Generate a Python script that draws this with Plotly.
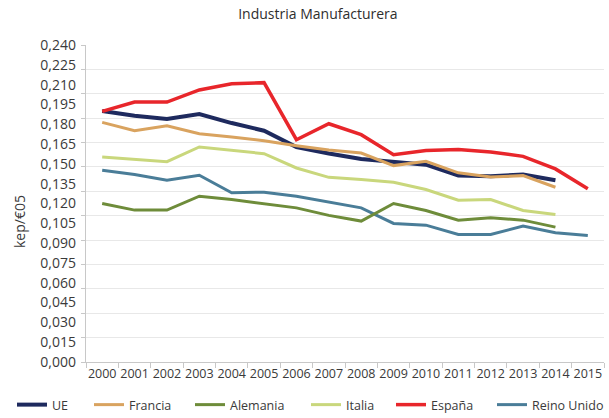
import plotly.graph_objects as go

years = [str(y) for y in range(2000, 2016)]

ue = [0.190, 0.1864, 0.1839, 0.1877, 0.1809, 0.1751, 0.1628, 0.1578, 0.1537, 0.1519,
      0.1494, 0.1411, 0.1406, 0.1419, 0.1376]
francia = [0.1814, 0.1751, 0.1789, 0.1728, 0.1703, 0.1675, 0.1638, 0.1605, 0.1582, 0.1487,
           0.1519, 0.1432, 0.1401, 0.1411, 0.1323]
alemania = [0.1200, 0.1150, 0.1150, 0.1255, 0.1230, 0.1200, 0.1167, 0.1110, 0.1067, 0.1200,
            0.1147, 0.1074, 0.1092, 0.1074, 0.1021]
italia = [0.1552, 0.1532, 0.1517, 0.1628, 0.1602, 0.1577, 0.1469, 0.1398, 0.1381, 0.1361,
          0.1306, 0.1225, 0.1230, 0.1147, 0.1117]
espana = [0.1897, 0.1968, 0.1968, 0.2060, 0.2106, 0.2115, 0.1683, 0.1804, 0.1721, 0.1570,
          0.1602, 0.1608, 0.1590, 0.1557, 0.1462, 0.1311]
reino_unido = [0.1451, 0.1419, 0.1376, 0.1414, 0.1281, 0.1286, 0.1255, 0.1212, 0.1167, 0.1049,
               0.1036, 0.0966, 0.0966, 0.1029, 0.0979, 0.0958]

y_tick_vals = [i * 0.015 for i in range(17)]
y_tick_text = ["0,000", "0,015", "0,030", "0,045", "0,060", "0,075", "0,090", "0,105",
               "0,120", "0,135", "0,150", "0,165", "0,180", "0,195", "0,210", "0,225", "0,240"]

FONT = "Open Sans"
TEXT = "#3a3a3a"

# (name, values, colour, width, legend id, legend left edge in px) in drawing order
series = [
    ("Reino Unido", reino_unido, "#4a7d98", 3, "legend6", 492),
    ("Alemania", alemania, "#6e8c3a", 3, "legend3", 190),
    ("Italia", italia, "#c9d77c", 3, "legend4", 306),
    ("UE", ue, "#1e2a5e", 4, "legend", 12),
    ("Francia", francia, "#d9a35f", 3, "legend2", 89),
    ("España", espana, "#e8262b", 3.5, "legend5", 391),
]

W, H = 609, 418
fig = go.Figure()
legends = {}
for name, vals, color, width, leg, left in series:
    fig.add_trace(go.Scatter(
        x=years[:len(vals)], y=vals, name=name, mode="lines",
        line=dict(color=color, width=width), legend=leg, showlegend=True,
    ))
    legends[leg] = dict(orientation="h", x=left / W, xref="container", xanchor="left",
                        y=1 - 405 / H, yref="container", yanchor="middle",
                        font=dict(size=12.5, color=TEXT), itemwidth=30,
                        bgcolor="rgba(0,0,0,0)")

# overlay axis carrying the gridlines and left tick marks
fig.add_trace(go.Scatter(x=[], y=[], yaxis="y2", showlegend=False, hoverinfo="skip"))

fig.update_layout(
    width=W, height=H,
    showlegend=True,
    margin=dict(l=86, r=5, t=45, b=56, autoexpand=False),
    paper_bgcolor="white", plot_bgcolor="white",
    font=dict(family=FONT, color=TEXT, size=13),
    title=dict(text="Industria Manufacturera", x=0.522, xref="container", xanchor="center",
               y=1 - 14 / H, yref="container", yanchor="middle",
               font=dict(size=14, color="#2e2e2e")),
    xaxis=dict(type="category", range=[-0.5, 15.5], categoryorder="array", categoryarray=years,
               showgrid=False, showline=True, linecolor="#c8c8c8", linewidth=1,
               ticks="outside", tickson="boundaries", ticklen=5, tickcolor="#c8c8c8",
               tickangle=0, automargin=False,
               tickfont=dict(size=12.5, color=TEXT), zeroline=False),
    yaxis=dict(range=[0, 0.240], tickvals=y_tick_vals, ticktext=y_tick_text,
               showgrid=False, zeroline=False, showline=False, ticks="", automargin=False,
               ticklabelstandoff=9, tickfont=dict(size=14, color=TEXT)),
    yaxis2=dict(overlaying="y", anchor="x", side="left", range=[0, 13], dtick=1, tick0=0,
                showgrid=True, gridcolor="#e8e8e8", gridwidth=1,
                showline=True, linecolor="#c8c8c8", linewidth=1, mirror=False,
                ticks="outside", ticklen=4, tickcolor="#c8c8c8",
                showticklabels=False, zeroline=False),
    annotations=[dict(text="kep/€05", textangle=-90, showarrow=False,
                      xref="paper", x=(19 - 86) / 518, xanchor="center",
                      yref="paper", y=(362 - 222) / 317, yanchor="middle",
                      font=dict(size=14, color=TEXT))],
)
fig.update_layout(**legends)

fig.write_html("out.html")
